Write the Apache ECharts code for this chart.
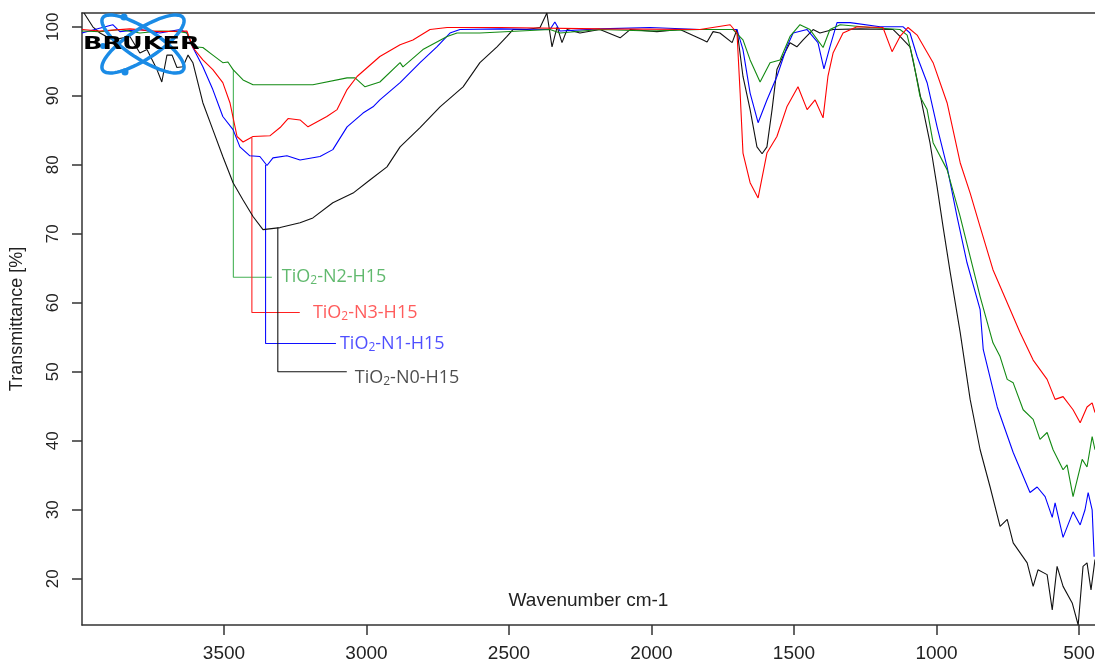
<!DOCTYPE html>
<html><head><meta charset="utf-8">
<script src="https://cdn.jsdelivr.net/npm/echarts@6.0.0/dist/echarts.min.js"></script>
<style>html,body{margin:0;padding:0;background:#fff}#c{width:1095px;height:664px}</style>
</head><body><div id="c"></div>
<script>
// Tick labels
const xTicks = [500, 1000, 1500, 2000, 2500, 3000, 3500];
const yTicks = [20, 30, 40, 50, 60, 70, 80, 90, 100];

// Spectra: [wavenumber cm-1, transmittance %]
const N0 = [[3991,102],[3960,100],[3935,99.1],[3890,98.1],[3830,98.6],[3795,96.2],[3770,96.7],[3735,93.8],[3718,92.0],[3700,95.9],[3682,95.9],[3665,94.1],[3644,94.2],[3626,95.9],[3609,94.8],[3574,89.0],[3539,85.1],[3504,81.2],[3468,77.4],[3433,74.9],[3398,72.5],[3363,70.6],[3303,70.9],[3233,71.6],[3188,72.3],[3118,74.5],[3047,75.9],[2988,77.8],[2928,79.7],[2882,82.6],[2812,85.4],[2742,88.4],[2661,91.3],[2602,94.8],[2542,97.1],[2507,98.6],[2486,99.6],[2437,99.6],[2391,99.9],[2367,102],[2349,97.1],[2331,100],[2314,97.7],[2296,99.6],[2251,99.1],[2181,99.6],[2110,98.4],[2075,99.6],[1981,99.3],[1900,99.6],[1819,98.1],[1805,97.8],[1784,99.3],[1760,99.1],[1717,97.7],[1700,99.6],[1679,92.8],[1654,88.0],[1630,82.6],[1612,81.6],[1595,82.6],[1577,88.0],[1560,93.8],[1539,95.7],[1514,97.7],[1490,97.1],[1468,98.1],[1433,99.6],[1409,99.1],[1363,99.6],[1268,99.7],[1152,99.6],[1128,98.6],[1093,97.1],[1068,92.3],[1047,88.0],[1023,83.2],[998,76.8],[977,71.0],[952,64.4],[917,55.7],[882,46.0],[847,38.7],[812,33.3],[777,27.6],[752,28.6],[731,25.2],[682,22.3],[661,18.9],[644,21.3],[612,20.6],[594,15.5],[577,21.8],[556,18.9],[524,16.5],[503,13.3],[486,21.8],[472,22.3],[458,18.4],[444,22.8]];

const N1 = [[3998,99.1],[3953,99.6],[3890,100.3],[3865,99.3],[3795,99.6],[3725,99.1],[3654,99.6],[3630,99.1],[3609,97.0],[3574,94.2],[3539,90.9],[3504,87.0],[3468,85.1],[3444,82.6],[3409,81.3],[3374,81.2],[3349,79.9],[3328,81.0],[3279,81.3],[3233,80.7],[3163,81.2],[3118,82.2],[3068,85.5],[3012,87.5],[2977,88.4],[2953,89.4],[2882,91.9],[2812,94.8],[2753,97.1],[2707,99.1],[2672,99.6],[2531,99.7],[2356,99.6],[2339,100.7],[2321,99.4],[2181,99.7],[2005,99.9],[1830,99.6],[1700,99.6],[1679,96.7],[1654,90.4],[1626,86.1],[1595,89.4],[1560,92.8],[1525,97.1],[1503,99.1],[1454,99.6],[1416,97.7],[1395,93.9],[1374,97.1],[1349,100.6],[1303,100.6],[1198,100],[1117,100],[1093,99.1],[1068,95.7],[1033,91.9],[998,85.5],[963,79.7],[928,72.5],[893,65.8],[847,59.0],[836,53.2],[787,44.9],[731,38.3],[672,32.5],[647,33.3],[619,31.9],[594,28.9],[584,31.0],[556,26.0],[521,29.7],[496,27.8],[479,30.0],[468,32.5],[454,30.0],[447,23.2]];

const N2 = [[3998,99.4],[3935,99.3],[3865,99.6],[3795,99.1],[3725,99.4],[3654,99.3],[3630,99.1],[3609,97.1],[3574,97.0],[3539,95.9],[3504,94.8],[3486,94.9],[3468,93.8],[3433,92.3],[3398,91.6],[3303,91.6],[3188,91.6],[3068,92.6],[3040,92.6],[3005,91.3],[2953,92.0],[2882,94.8],[2872,94.2],[2802,96.7],[2717,98.6],[2682,99.1],[2602,99.1],[2356,99.6],[2321,99.1],[2181,99.6],[2005,99.4],[1830,99.6],[1714,99.6],[1679,98.1],[1654,95.2],[1619,92.0],[1584,94.8],[1549,95.2],[1514,98.6],[1479,100.3],[1444,99.6],[1398,97.0],[1374,99.6],[1338,100.3],[1233,99.9],[1128,99.6],[1103,98.8],[1082,95.2],[1058,89.9],[1033,88.0],[1012,83.2],[963,79.3],[917,72.5],[882,66.7],[847,60.9],[802,54.2],[777,52.2],[752,48.9],[731,48.4],[696,44.5],[661,43.1],[637,40.2],[612,41.2],[591,38.7],[556,35.8],[542,36.5],[521,31.9],[489,37.3],[472,36.2],[454,40.6],[444,38.7]];

const N3 = [[3998,99.6],[3935,99.4],[3830,99.7],[3725,99.3],[3630,99.4],[3609,97.0],[3574,95.2],[3539,93.8],[3504,91.9],[3479,89.0],[3454,84.1],[3433,83.3],[3398,84.1],[3339,84.2],[3303,85.4],[3275,86.7],[3233,86.5],[3205,85.5],[3139,87.0],[3103,88.0],[3068,90.9],[3033,92.8],[2953,95.7],[2882,97.4],[2837,98.1],[2777,99.6],[2717,99.9],[2531,99.9],[2181,99.7],[1830,99.6],[1724,100.3],[1700,99.1],[1689,90.4],[1679,81.7],[1654,77.4],[1626,75.2],[1595,81.7],[1560,84.1],[1525,88.4],[1486,91.3],[1454,88.0],[1426,89.4],[1398,86.8],[1381,92.8],[1363,96.2],[1328,99.1],[1279,100],[1188,99.9],[1156,96.4],[1128,98.6],[1100,99.9],[1068,98.8],[1058,98.1],[1012,94.8],[963,89.0],[917,80.3],[882,75.9],[847,71.0],[802,64.8],[752,60.0],[707,55.7],[661,51.7],[612,48.9],[584,46.0],[556,46.4],[521,44.5],[496,42.6],[472,44.9],[454,45.5],[444,44.1]];

// Peak annotations: drop line from peak then horizontal leader
const annN2 = [[3467,93.8],[3467,63.7],[3332,63.7]];
const annN3 = [[3402,83.9],[3402,58.6],[3234,58.6]];
const annN1 = [[3354,80.0],[3354,54.1],[3107,54.1]];
const annN0 = [[3311,70.9],[3311,50.0],[3069,50.0]];
const labelPos = { N2: [3297,63.8], N3: [3188,58.6], N1: [3093,54.1], N0: [3041,49.1] };
const labelText = { N2: '-N2-H15', N3: '-N3-H15', N1: '-N1-H15', N0: '-N0-H15' };

const chart = echarts.init(document.getElementById('c'), null, {renderer: 'canvas'});
const axisCol = '#333';

function spectrum(name, data, color) {
  return { name, type: 'line', data, showSymbol: false, symbol: 'none', clip: true,
    lineStyle: { color, width: 1.1 }, z: 3, silent: true };
}
function ann(data, color) {
  return { type: 'line', data, showSymbol: false, symbol: 'none', lineStyle: { color, width: 1.1 }, z: 2, silent: true };
}
function lab(key, color) {
  return { type: 'scatter', data: [labelPos[key]], symbolSize: 0, z: 4, silent: true,
    label: { show: true, position: 'right', distance: 0,
      formatter: '{a|TiO}{b|2}{a|' + labelText[key] + '}',
      rich: { a: { fontFamily: 'Open Sans', fontSize: 18, color }, b: { fontFamily: 'Open Sans', fontSize: 12, color, verticalAlign: 'bottom', padding: [8,0,0,0] } } } };
}

// Bruker logo ellipses
function ellipsePts(cx, cy, a, b, th) {
  const p = [];
  for (let i = 0; i <= 72; i++) {
    const t = i / 72 * Math.PI * 2;
    const x = a * Math.cos(t), y = b * Math.sin(t);
    p.push([cx + x * Math.cos(th) - y * Math.sin(th), cy + x * Math.sin(th) + y * Math.cos(th)]);
  }
  return p;
}
const logoBlue = '#1a8be6';
const plain = v => String(v);

chart.setOption({
  animation: false,
  backgroundColor: '#fff',
  grid: { left: 82, right: 0, top: 13, bottom: 39, containLabel: false, outerBoundsMode: 'none' },
  xAxis: [{
    type: 'value', inverse: true, min: 444, max: 3998,
    name: 'Wavenumber cm-1', nameLocation: 'middle', nameGap: -34,
    nameTextStyle: { fontFamily: 'Liberation Sans', fontSize: 19, color: '#222' },
    axisLine: { show: true, lineStyle: { color: axisCol, width: 1.5 } },
    axisTick: { show: true, length: 10, customValues: xTicks, lineStyle: { color: axisCol, width: 1.5 } },
    axisLabel: { customValues: xTicks, formatter: plain, fontFamily: 'Liberation Sans', fontSize: 19, color: '#222', margin: 19 },
    splitLine: { show: false }
  }, {
    type: 'value', position: 'top', inverse: true, min: 444, max: 3998,
    axisLine: { show: true, lineStyle: { color: axisCol, width: 1.5 } },
    axisTick: { show: false }, axisLabel: { show: false }, splitLine: { show: false }
  }],
  yAxis: {
    type: 'value', min: 13.3, max: 102,
    name: 'Transmittance [%]', nameLocation: 'middle', nameRotate: 90, nameGap: 56,
    nameTextStyle: { fontFamily: 'Liberation Sans', fontSize: 18, color: '#222' },
    axisLine: { show: true, lineStyle: { color: axisCol, width: 1.5 } },
    axisTick: { show: true, length: 10, customValues: yTicks, lineStyle: { color: axisCol, width: 1.5 } },
    axisLabel: { customValues: yTicks, formatter: plain, rotate: 90, fontFamily: 'Liberation Sans', fontSize: 17, color: '#222', margin: 20 },
    splitLine: { show: false }
  },
  series: [
    spectrum('TiO2-N0-H15', N0, '#111111'),
    spectrum('TiO2-N1-H15', N1, '#0000ff'),
    spectrum('TiO2-N2-H15', N2, '#138a13'),
    spectrum('TiO2-N3-H15', N3, '#ff0000'),
    ann(annN2, '#45b155'), ann(annN3, '#ff2020'), ann(annN1, '#1010ff'), ann(annN0, '#111111'),
    lab('N2', '#3aa84a'), lab('N3', '#ff3333'), lab('N1', '#2323ff'), lab('N0', '#222222')
  ],
  graphic: [
    { type: 'polyline', shape: { points: ellipsePts(143, 44, 48, 15, 33 * Math.PI / 180) }, style: { stroke: logoBlue, lineWidth: 3.5, fill: null }, z: 10 },
    { type: 'polyline', shape: { points: ellipsePts(143, 44, 48, 15, -33 * Math.PI / 180) }, style: { stroke: logoBlue, lineWidth: 3.5, fill: null }, z: 10 },
    { type: 'circle', shape: { cx: 124, cy: 17, r: 3.5 }, style: { fill: logoBlue }, z: 10 },
    { type: 'circle', shape: { cx: 125, cy: 72, r: 3.5 }, style: { fill: logoBlue }, z: 10 },
    { type: 'circle', shape: { cx: 103, cy: 46, r: 3 }, style: { fill: logoBlue }, z: 10 },
    { type: 'text', x: 83, y: 45, scaleX: 1.5, z: 11,
      style: { text: 'BRUKER', font: '900 17px "DejaVu Sans"', fill: '#000', textVerticalAlign: 'middle', verticalAlign: 'middle' } }
  ]
});
</script></body></html>
